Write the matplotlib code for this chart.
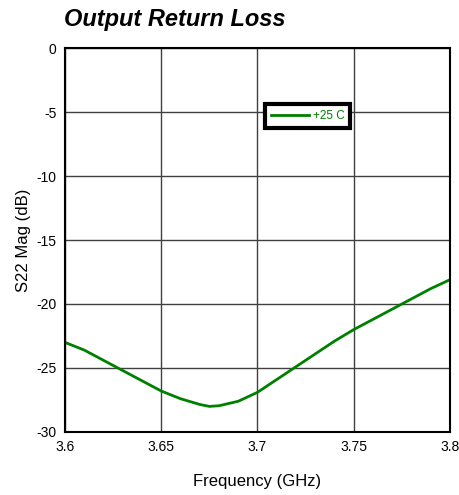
import matplotlib.pyplot as plt

plt.rcParams['font.family'] = ['Liberation Sans', 'DejaVu Sans']
plt.rcParams['axes.unicode_minus'] = False

freq = [3.60, 3.61, 3.62, 3.63, 3.64, 3.65, 3.66, 3.67, 3.675, 3.68, 3.69,
        3.70, 3.71, 3.72, 3.73, 3.74, 3.75, 3.76, 3.77, 3.78, 3.79, 3.80]
s22 = [-23.0, -23.6, -24.4, -25.2, -26.0, -26.8, -27.4, -27.85, -28.0, -27.95, -27.6,
       -26.9, -25.9, -24.9, -23.9, -22.9, -22.0, -21.2, -20.4, -19.6, -18.8, -18.1]
xticks = [3.6, 3.65, 3.7, 3.75, 3.8]
xticklabels = ['3.6', '3.65', '3.7', '3.75', '3.8']
yticks = [0, -5, -10, -15, -20, -25, -30]

fig = plt.figure(figsize=(4.59, 4.95), dpi=100)
ax = fig.add_axes([0.1416, 0.1273, 0.8388, 0.7757])

ax.plot(freq, s22, color='#008000', linewidth=2, label='+25 C')
ax.set_xlim(3.6, 3.8)
ax.set_ylim(-30, 0)
ax.set_xticks(xticks)
ax.set_xticklabels(xticklabels)
ax.set_yticks(yticks)
ax.tick_params(length=0, labelsize=10, pad=6)
ax.grid(True, color='#404040', linewidth=1)
for s in ax.spines.values():
    s.set_linewidth(1.5)
    s.set_color('black')

ax.set_xlabel('Frequency (GHz)', fontsize=12, labelpad=14)
ax.set_ylabel('S22 Mag (dB)', fontsize=12, labelpad=4)
fig.text(0.14, 0.96, 'Output Return Loss', fontsize=17, fontweight='bold',
         fontstyle='italic', va='center', ha='left')

leg = ax.legend(loc='upper left', bbox_to_anchor=(0.505, 0.87), fontsize=8.5,
                frameon=True, fancybox=False, handlelength=3.2, handletextpad=0.3,
                borderpad=0.5, labelcolor='#008000', framealpha=1)
leg.get_frame().set_edgecolor('black')
leg.get_frame().set_linewidth(3)

fig.savefig('out.png', dpi=100)
